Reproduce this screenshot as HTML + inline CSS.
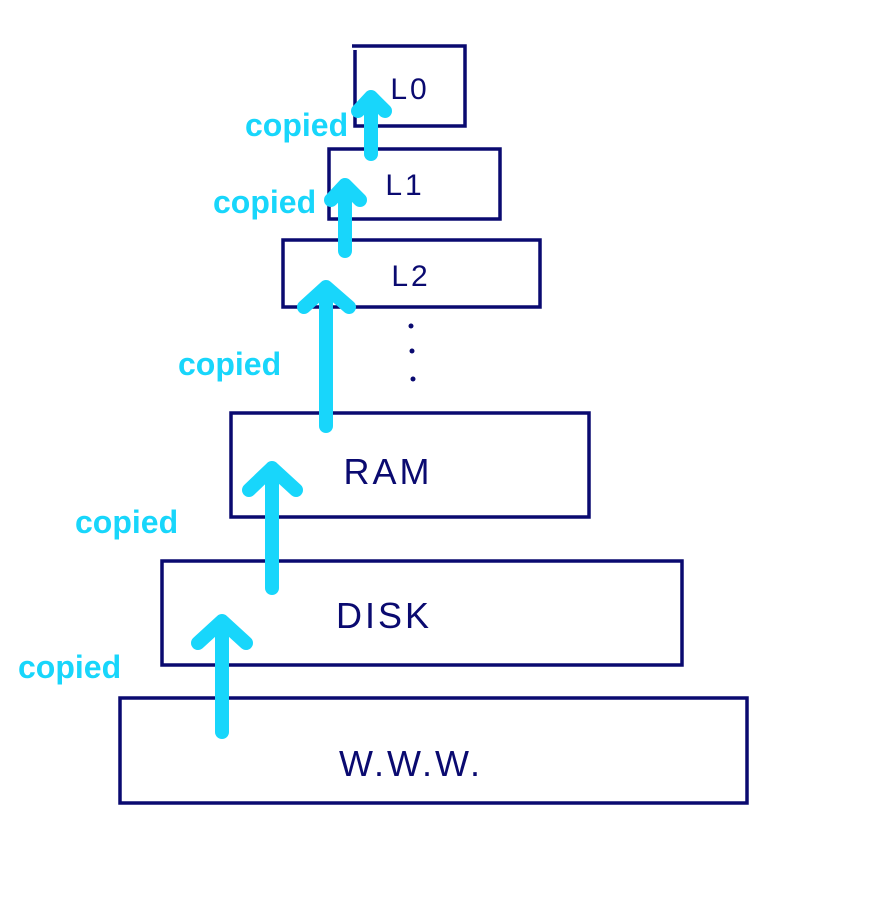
<!DOCTYPE html>
<html><head><style>body{margin:0;background:#fff}svg{display:block}</style></head>
<body>
<svg width="874" height="909" viewBox="0 0 874 909" xmlns="http://www.w3.org/2000/svg">
<g fill="none" stroke="#0a0a70" stroke-width="3.5">
<polyline points="352,46 465,46 465,126 355,126 355,50"/>
<rect x="329" y="149" width="171" height="70"/>
<rect x="283" y="240" width="257" height="67"/>
<rect x="231" y="413" width="358" height="104"/>
<rect x="162" y="561" width="520" height="104"/>
<rect x="120" y="698" width="627" height="105"/>
</g>
<g fill="#0a0a70" font-family="Liberation Sans, sans-serif" font-size="36" text-anchor="middle" letter-spacing="3">
<text x="410" y="99" font-size="30">L0</text>
<text x="405" y="195" font-size="30">L1</text>
<text x="411" y="286" font-size="30">L2</text>
<text x="388" y="484">RAM</text>
<text x="384" y="628">DISK</text>
<text x="411" y="776">W.W.W.</text>
<circle cx="411" cy="326" r="2.5"/><circle cx="412" cy="351" r="2.5"/><circle cx="413" cy="379" r="2.5"/>
</g>
<g fill="none" stroke="#18d6fb" stroke-width="14" stroke-linecap="round" stroke-linejoin="round">
<path d="M222 732 V624 M198 643 L222 621 L246 643"/>
<path d="M272 588 V468 M249 490 L272 468 L296 490"/>
<path d="M326 426 V288 M304 307 L326 287 L349 307"/>
<path d="M345 251 V185 M331 200 L345 185 L360 200"/>
<path d="M371 154 V97 M358 111 L371 97 L385 111"/>
</g>
<g fill="#18d6fb" font-family="Liberation Sans, sans-serif" font-weight="bold" font-size="32">
<text x="18" y="678">copied</text>
<text x="75" y="533">copied</text>
<text x="178" y="375">copied</text>
<text x="213" y="213">copied</text>
<text x="245" y="136">copied</text>
</g>
</svg>
</body></html>
